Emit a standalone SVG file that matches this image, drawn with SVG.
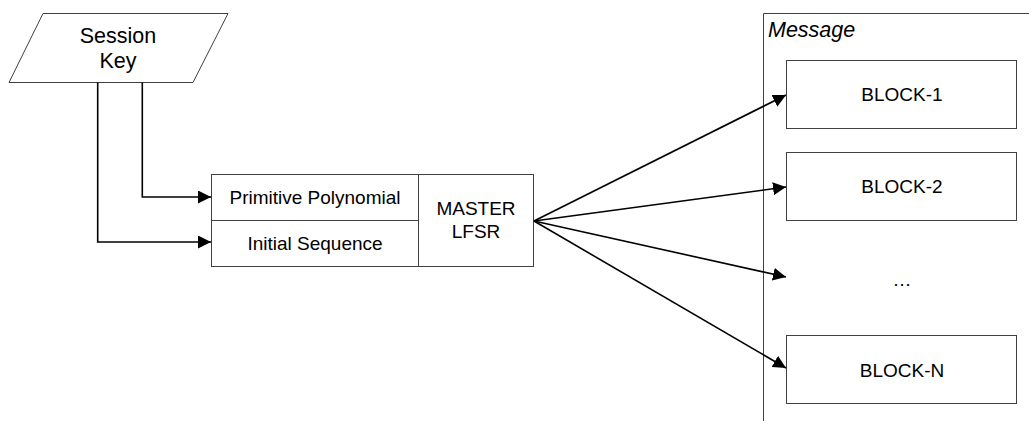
<svg xmlns="http://www.w3.org/2000/svg" width="1029" height="421" viewBox="0 0 1029 421">
<style>
.shape{fill:#fff;stroke:#404040;stroke-width:1}
.t{font-family:"Liberation Sans",Arial,sans-serif;font-size:19px;fill:#000;text-anchor:middle}
.big{font-size:21.5px}
.conn{fill:none;stroke:#000;stroke-width:1.6}
</style>
<defs>
<marker id="arr" viewBox="0 0 10 10" refX="10" refY="5" markerWidth="13" markerHeight="13" markerUnits="userSpaceOnUse" orient="auto">
<path d="M0,0 L10,5 L0,10 Z" fill="#000"/>
</marker>
</defs>
<g id="message">
<path class="shape" d="M763.5,421 V13.5 H1030" fill="none"/>
<text x="768" y="37" class="t big" style="text-anchor:start;font-style:italic">Message</text>
</g>
<g id="session-key">
<polygon class="shape" points="43,13.5 228,13.5 193,82.5 9,82.5"/>
<text x="118" y="43" class="t big">Session</text>
<text x="118" y="68" class="t big">Key</text>
</g>
<g id="lfsr">
<rect class="shape" x="211.5" y="174.5" width="322" height="92"/>
<line class="shape" x1="418.5" y1="174.5" x2="418.5" y2="266.5"/>
<line class="shape" x1="211.5" y1="220.5" x2="418.5" y2="220.5"/>
<text x="315" y="204" class="t">Primitive Polynomial</text>
<text x="315" y="250" class="t">Initial Sequence</text>
<text x="476" y="215" class="t">MASTER</text>
<text x="476" y="238" class="t">LFSR</text>
</g>
<g id="block-1">
<rect class="shape" x="786.5" y="60.5" width="230" height="68"/>
<text x="902" y="101" class="t">BLOCK-1</text>
</g>
<g id="block-2">
<rect class="shape" x="786.5" y="152.5" width="230" height="68"/>
<text x="902" y="193" class="t">BLOCK-2</text>
</g>
<g id="ellipsis">
<text x="902" y="286" class="t">…</text>
</g>
<g id="block-n">
<rect class="shape" x="786.5" y="335.5" width="230" height="68"/>
<text x="902" y="377" class="t">BLOCK-N</text>
</g>
<g id="connectors">
<path class="conn" d="M142.3,82.5 V197 H211" marker-end="url(#arr)"/>
<path class="conn" d="M97.7,82.5 V242 H211" marker-end="url(#arr)"/>
<path class="conn" d="M534,221 L786,95" marker-end="url(#arr)"/>
<path class="conn" d="M534,221 L786,187" marker-end="url(#arr)"/>
<path class="conn" d="M534,221 L786,277" marker-end="url(#arr)"/>
<path class="conn" d="M534,221 L786,368" marker-end="url(#arr)"/>
</g>
</svg>
